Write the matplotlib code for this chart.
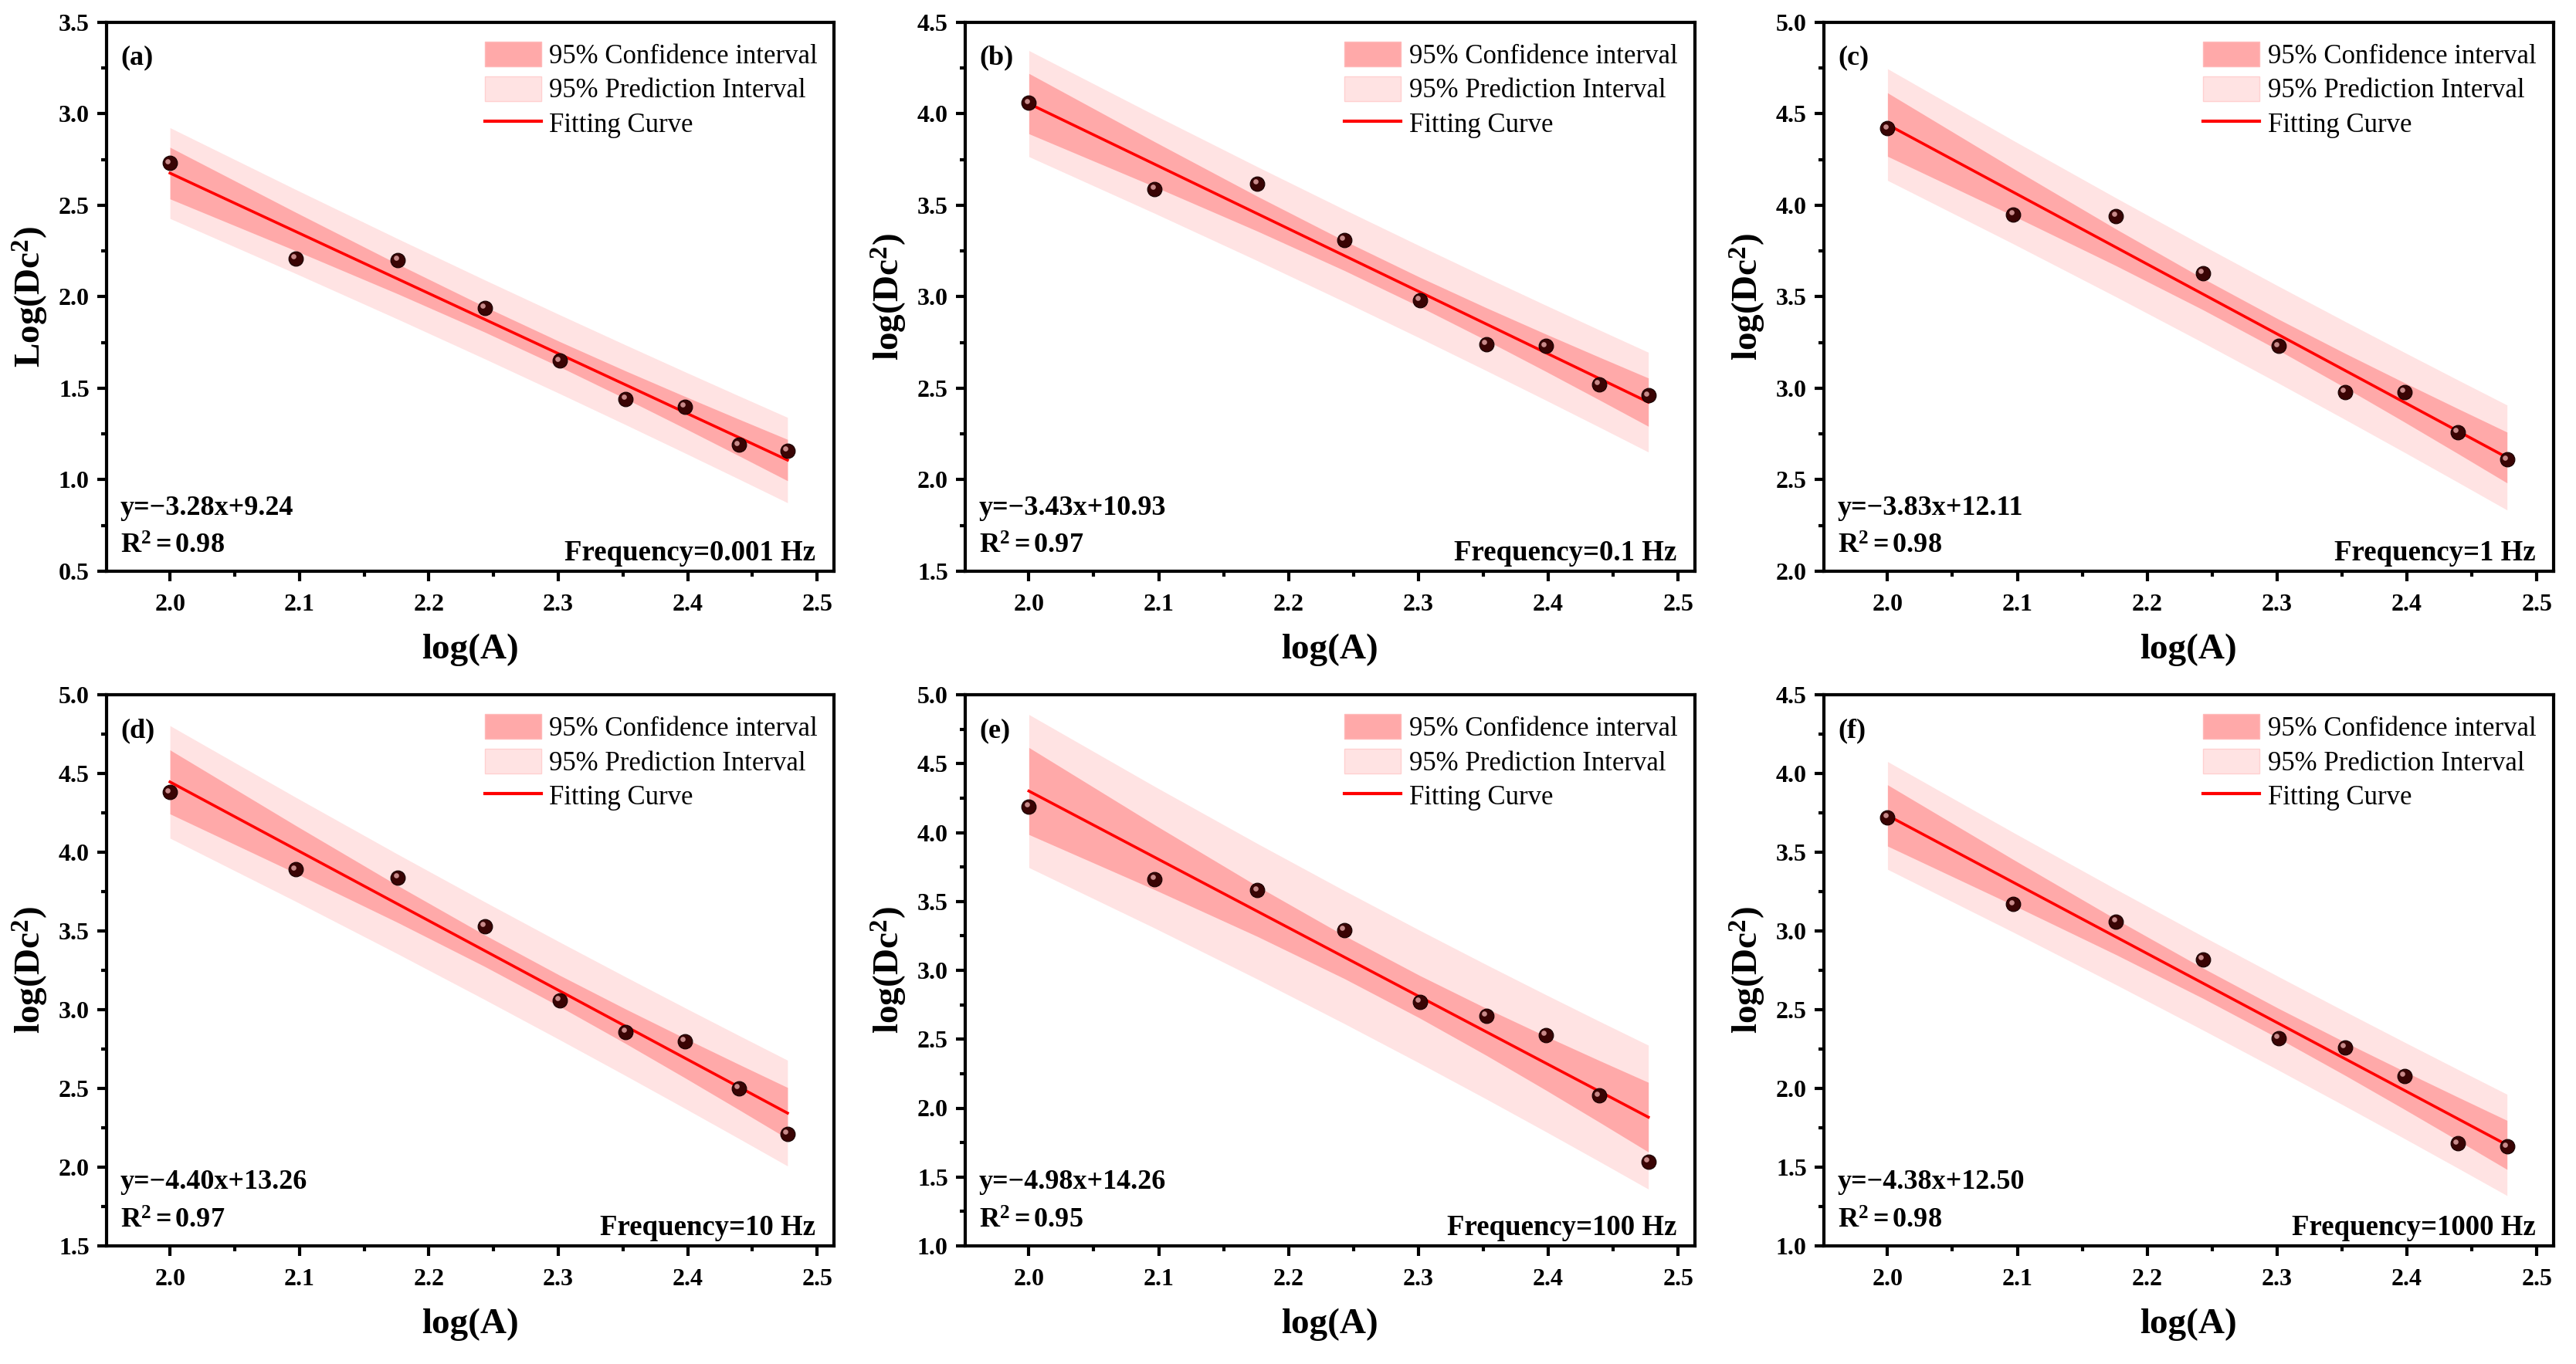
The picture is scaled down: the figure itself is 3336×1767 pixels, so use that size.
import numpy as np
import matplotlib.pyplot as plt
from matplotlib.ticker import MultipleLocator
from matplotlib.transforms import offset_copy
from matplotlib.patches import Patch
from matplotlib.lines import Line2D

plt.rcParams['font.family'] = ['Liberation Serif', 'DejaVu Serif']
plt.rcParams['mathtext.fontset'] = 'custom'
plt.rcParams['mathtext.rm'] = 'Liberation Serif'
plt.rcParams['mathtext.bf'] = 'Liberation Serif:bold'
plt.rcParams['mathtext.it'] = 'Liberation Serif:italic'

# stress amplitude A, plotted as log(A)
area = [100, 125, 150, 175, 200, 225, 250, 275, 300]

dc_0001hz = [2.73, 2.21, 2.20, 1.94, 1.65, 1.44, 1.40, 1.19, 1.16]
dc_01hz = [4.06, 3.59, 3.62, 3.31, 2.98, 2.74, 2.73, 2.52, 2.46]
dc_1hz = [4.42, 3.95, 3.94, 3.63, 3.23, 2.98, 2.98, 2.76, 2.61]
dc_10hz = [4.38, 3.89, 3.84, 3.53, 3.06, 2.86, 2.80, 2.50, 2.21]
dc_100hz = [4.19, 3.66, 3.58, 3.29, 2.77, 2.67, 2.53, 2.09, 1.61]
dc_1000hz = [3.72, 3.17, 3.06, 2.82, 2.32, 2.26, 2.08, 1.65, 1.63]

panel_letters = ['(a)', '(b)', '(c)', '(d)', '(e)', '(f)']
freq_labels = ['Frequency=0.001 Hz', 'Frequency=0.1 Hz', 'Frequency=1 Hz',
               'Frequency=10 Hz', 'Frequency=100 Hz', 'Frequency=1000 Hz']
equations = ['y=\u22123.28x+9.24', 'y=\u22123.43x+10.93', 'y=\u22123.83x+12.11',
             'y=\u22124.40x+13.26', 'y=\u22124.98x+14.26', 'y=\u22124.38x+12.50']
r2_values = ['0.98', '0.97', '0.98', '0.97', '0.95', '0.98']
y_names = ['Log', 'log', 'log', 'log', 'log', 'log']
y_limits = [(0.5, 3.5), (1.5, 4.5), (2.0, 5.0), (1.5, 5.0), (1.0, 5.0), (1.0, 4.5)]

T_CRIT = 2.3646  # Student t, 0.975 quantile, 7 dof

CI_COLOR = '#ffa9a9'
PI_COLOR = '#ffe3e3'
FS_TICK = 23
FS_LABEL = 34
FS_TEXT = 26

# axes boxes in pixels (left, top, right, bottom) of a 3336x1767 canvas
W, H = 3336, 1767
boxes = [(138, 29, 1080, 740), (1250, 29, 2195, 740), (2362, 29, 3307, 740),
         (138, 900, 1080, 1614), (1250, 900, 2195, 1614), (2362, 900, 3307, 1614)]


def fit_bands(x, y):
    slope, icpt = np.polyfit(x, y, 1)
    fit = slope * x + icpt
    n = len(x)
    s = np.sqrt(np.sum((y - fit) ** 2) / (n - 2))
    dx2 = (x - x.mean()) ** 2
    sxx = dx2.sum()
    ci = T_CRIT * s * np.sqrt(1 / n + dx2 / sxx)
    pi = T_CRIT * s * np.sqrt(1 + 1 / n + dx2 / sxx)
    return fit, ci, pi


fig = plt.figure(figsize=(W / 100, H / 100), dpi=100)
x = np.log10(area)
series = [dc_0001hz, dc_01hz, dc_1hz, dc_10hz, dc_100hz, dc_1000hz]

for i, y in enumerate(series):
    y = np.asarray(y)
    l, t, r, b = boxes[i]
    ax = fig.add_axes([l / W, 1 - b / H, (r - l) / W, (b - t) / H])

    fit, ci, pi = fit_bands(x, y)
    ax.fill_between(x, fit - pi, fit + pi, color=PI_COLOR, lw=0, zorder=1)
    ax.fill_between(x, fit - ci, fit + ci, color=CI_COLOR, lw=0, zorder=2)
    ax.plot(x, fit, color='#ff0000', lw=2.6, zorder=3)

    # shaded sphere markers
    ax.plot(x, y, 'o', ms=13.5, color='#3a0404', mec='#140000', mew=0.8, zorder=4)
    hl = offset_copy(ax.transData, fig=fig, x=-2, y=2, units='points')
    ax.plot(x, y, 'o', ms=4.8, color='#d99a9a', mew=0, alpha=0.9, zorder=5, transform=hl)

    ax.set_xlim(1.951, 2.513)
    ax.set_ylim(*y_limits[i])
    ax.xaxis.set_major_locator(MultipleLocator(0.1))
    ax.xaxis.set_minor_locator(MultipleLocator(0.05))
    ax.yaxis.set_major_locator(MultipleLocator(0.5))
    ax.yaxis.set_minor_locator(MultipleLocator(0.25))
    ax.tick_params(which='major', direction='out', length=9, width=3, labelsize=FS_TICK, pad=7)
    ax.tick_params(which='minor', direction='out', length=5, width=3)
    ax.tick_params(axis='x', which='major', pad=12)
    for lab in ax.get_xticklabels() + ax.get_yticklabels():
        lab.set_fontweight('bold')
    for sp in ax.spines.values():
        sp.set_linewidth(3)

    ax.set_xlabel('log(A)', fontsize=FS_LABEL, fontweight='bold', labelpad=16)
    ax.set_ylabel(r'$\mathbf{%s(Dc^{2})}$' % y_names[i], fontsize=FS_LABEL, labelpad=8)

    ax.text(0.019, 0.935, panel_letters[i], transform=ax.transAxes, fontsize=FS_TEXT,
            fontweight='bold', va='center', ha='left')
    ax.text(0.019, 0.115, equations[i], transform=ax.transAxes, fontsize=FS_TEXT,
            fontweight='bold', va='center', ha='left')
    ax.text(0.019, 0.045, r'$\mathbf{R^{2}{=}%s}$' % r2_values[i], transform=ax.transAxes,
            fontsize=FS_TEXT, va='center', ha='left')
    ax.text(0.975, 0.033, freq_labels[i], transform=ax.transAxes, fontsize=26.5,
            fontweight='bold', va='center', ha='right')

    handles = [Patch(facecolor=CI_COLOR, edgecolor='#ffb9b9'),
               Patch(facecolor=PI_COLOR, edgecolor='#ffd0d0'),
               Line2D([], [], color='#ff0000', lw=3)]
    ax.legend(handles, ['95% Confidence interval', '95% Prediction Interval', 'Fitting Curve'],
              loc='upper left', bbox_to_anchor=(0.52, 0.965), frameon=False,
              fontsize=25, borderpad=0, borderaxespad=0, labelspacing=0.25,
              handlelength=2.1, handleheight=1.05, handletextpad=0.3)

fig.savefig('out.png', dpi=100)
